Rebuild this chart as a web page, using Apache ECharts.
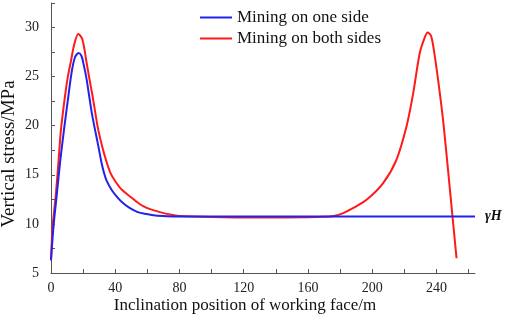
<!DOCTYPE html>
<html>
<head>
<meta charset="utf-8">
<script src="https://cdn.jsdelivr.net/npm/echarts@6/dist/echarts.min.js"></script>
<style>html,body{margin:0;padding:0;background:#fff;}#c{width:512px;height:318px;}</style>
</head>
<body>
<div id="c"></div>
<script>
// Data
var oneSideX = [0, 1, 2, 3.5, 5.6, 8.1, 10.8, 13, 15, 17.2, 19, 20.1, 22, 23.8, 25.5, 27.4, 29.5, 31.5, 33, 34.6, 38, 41.9, 45, 49.2, 54, 59.5, 65, 72, 80, 120, 160, 200, 240, 264];
var oneSideY = [6.3, 8.6, 10.5, 12.8, 16.2, 19.6, 23, 25.6, 27, 27.4, 27.1, 26.4, 24.9, 23, 21.2, 19.6, 17.9, 16.2, 15.2, 14.4, 13.4, 12.6, 12.1, 11.6, 11.2, 11.0, 10.85, 10.78, 10.75, 10.75, 10.75, 10.75, 10.75, 10.75];
var bothSidesX = [0, 1, 2.9, 4.6, 6.2, 8.7, 10.5, 12.2, 14.5, 17, 19.5, 22.2, 24, 25.9, 27.6, 29.4, 32, 34.6, 37, 39.8, 44, 49.2, 53, 57.4, 61.6, 67.8, 74, 80, 100, 130, 160, 170, 176, 182, 188, 196.5, 206.8, 215, 221.3, 225.5, 229.6, 232.5, 234.5, 236.5, 238, 241, 244.1, 247.2, 250, 252.5];
var bothSidesY = [6.3, 9.7, 12.8, 16.2, 19.6, 23, 25, 26.4, 28.3, 29.35, 28.8, 26.4, 24.7, 23, 21.3, 19.6, 17.8, 16.3, 15.2, 14.4, 13.5, 12.8, 12.3, 11.8, 11.5, 11.2, 10.95, 10.8, 10.7, 10.65, 10.68, 10.72, 10.8, 11.1, 11.6, 12.45, 14.15, 16.5, 19.9, 23.3, 27.4, 28.9, 29.5, 29.2, 28.1, 24.7, 20.6, 15.5, 10.74, 6.5];
var seriesNames = ['Mining on one side', 'Mining on both sides'];
var xTickLabels = [0, 40, 80, 120, 160, 200, 240];
var yTickLabels = [5, 10, 15, 20, 25, 30];
var refLabel = 'γH';

function pairs(xs, ys) { return xs.map(function (x, i) { return [x, ys[i]]; }); }
var serif = "'Liberation Serif', 'Times New Roman', serif";
var chart = echarts.init(document.getElementById('c'), null, {renderer: 'canvas'});
chart.setOption({
  animation: false,
  backgroundColor: '#fff',
  grid: {left: 51, right: 37, top: 3, bottom: 45, containLabel: false, outerBoundsMode: 'none'},
  legend: {
    orient: 'vertical', left: 195, top: 4, itemGap: 4,
    itemWidth: 32, itemHeight: 2, icon: 'rect',
    textStyle: {fontFamily: serif, fontSize: 17, color: '#111'},
    data: seriesNames
  },
  xAxis: {
    type: 'value', min: 0, max: 264, interval: 20,
    name: 'Inclination position of working face/m', nameLocation: 'middle', nameGap: 24,
    nameMoveOverlap: false,
    nameTextStyle: {fontFamily: serif, fontSize: 17, color: '#111', padding: [0, 36, 0, 0]},
    axisLine: {lineStyle: {color: '#555', width: 1}},
    axisTick: {inside: true, length: 4, lineStyle: {color: '#555'}},
    splitLine: {show: false},
    axisLabel: {fontFamily: serif, fontSize: 14, color: '#222', margin: 8, showMaxLabel: false,
      formatter: function (v) { return xTickLabels.indexOf(v) >= 0 ? String(v) : ''; }}
  },
  yAxis: {
    type: 'value', min: 5, max: 32.5, interval: 2.5,
    name: 'Vertical stress/MPa', nameLocation: 'middle', nameGap: 32,
    nameMoveOverlap: false,
    nameTextStyle: {fontFamily: serif, fontSize: 19, color: '#111', padding: [0, 32, 0, 0]},
    axisLine: {show: true, lineStyle: {color: '#555', width: 1}},
    axisTick: {show: true, inside: true, length: 4, lineStyle: {color: '#555'}},
    splitLine: {show: false},
    axisLabel: {fontFamily: serif, fontSize: 14, color: '#222', margin: 12,
      formatter: function (v) { return yTickLabels.indexOf(v) >= 0 ? String(v) : ''; }}
  },
  series: [
    {
      name: seriesNames[0], type: 'line', data: pairs(oneSideX, oneSideY),
      smooth: 0.3, showSymbol: false, z: 3,
      lineStyle: {color: '#2222ee', width: 2}, itemStyle: {color: '#2222ee'},
      endLabel: {show: true, formatter: refLabel, distance: 10,
        fontFamily: serif, fontSize: 14, fontWeight: 'bold', fontStyle: 'italic', color: '#111'}
    },
    {
      name: seriesNames[1], type: 'line', data: pairs(bothSidesX, bothSidesY),
      smooth: 0.3, showSymbol: false, z: 2,
      lineStyle: {color: '#ff1a1a', width: 2}, itemStyle: {color: '#ff1a1a'}
    }
  ]
});
</script>
</body>
</html>
